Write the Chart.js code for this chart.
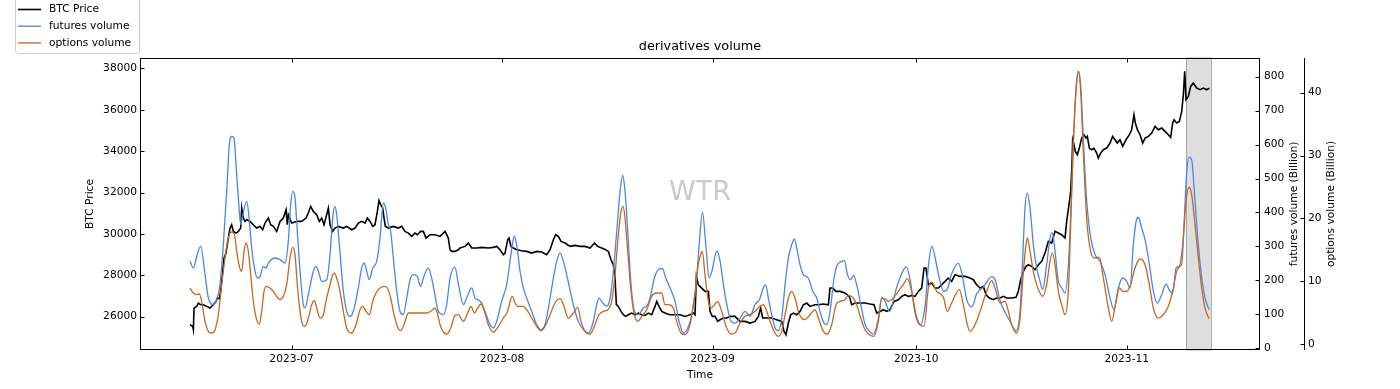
<!DOCTYPE html>
<html>
<head>
<meta charset="utf-8">
<script src="https://cdn.jsdelivr.net/npm/chart.js@4.4.1/dist/chart.umd.min.js"></script>
<style>
html,body{margin:0;padding:0;background:#ffffff;}
#wrap{width:1400px;height:389px;position:relative;}
canvas{display:block;}
</style>
</head>
<body>
<div id="wrap"><canvas id="c" width="1400" height="389" style="width:1400px;height:389px"></canvas></div>
<script>
// ---------------- DATA (x = days since 2023-07-01) ----------------
const chartTitle = 'derivatives volume';
const watermark = 'WTR';
const seriesNames = ['BTC Price', 'futures volume', 'options volume'];
const axisTitles = {x: 'Time', price: 'BTC Price', futures: 'futures volume (Billion)', options: 'options volume (Billion)'};

const monthTicks = [0, 31, 62, 92, 123];
const monthLabels = ['2023-07', '2023-08', '2023-09', '2023-10', '2023-11'];
const priceTicks = [26000, 28000, 30000, 32000, 34000, 36000, 38000];
const futuresTicks = [0, 100, 200, 300, 400, 500, 600, 700, 800];
const optionsTicks = [0, 10, 20, 30, 40];
const spanDays = [131.72, 135.4];

const btcDay = [
 -14.96,-14.57,-14.47,-14.37,-13.98,-13.74,-13.39,-13.0,-12.51,-12.02,
 -11.53,-11.13,-10.94,-10.64,-10.45,-10.15,-9.96,-9.66,-9.32,-9.07,
 -8.83,-8.58,-8.19,-7.84,-7.5,-7.35,-7.11,-6.86,-6.62,-6.13,
 -5.64,-5.15,-4.65,-4.26,-3.92,-3.43,-3.08,-2.69,-2.2,-1.71,
 -1.22,-0.82,-0.63,-0.48,0.01,0.75,1.48,2.12,2.46,2.81,
 3.2,3.69,4.08,4.43,4.77,5.16,5.41,5.66,6.05,6.39,
 6.88,7.62,8.11,8.85,9.34,9.83,10.32,10.81,11.15,11.55,
 11.94,12.28,12.63,12.87,13.12,13.41,13.61,13.81,14.25,14.98,
 15.72,16.21,16.7,17.19,17.68,18.17,18.52,19.01,19.4,19.79,
 20.38,21.12,21.86,22.59,22.84,23.08,23.33,23.57,24.06,24.56,
 24.8,25.54,26.03,26.52,27.26,27.99,28.97,29.71,30.2,30.69,
 31.18,31.43,31.82,32.02,32.31,32.66,33.15,33.88,34.62,35.36,
 36.09,36.83,37.57,38.06,38.55,38.89,39.28,39.68,40.27,41.0,
 41.74,42.47,43.21,43.95,44.6,45.08,45.67,46.25,46.65,47.04,
 47.38,47.63,47.83,48.12,48.51,48.86,49.2,49.59,50.08,50.57,
 51.07,51.56,52.05,52.54,53.03,53.52,53.77,54.11,54.5,54.99,
 55.73,56.47,57.2,57.94,58.67,59.17,59.41,59.61,59.9,60.39,
 60.89,61.38,61.62,61.96,62.36,62.75,63.09,63.58,64.08,64.57,
 65.3,66.04,66.78,67.51,68.25,68.74,69.08,69.38,69.97,70.7,
 71.44,72.18,72.52,72.81,73.16,73.5,73.89,74.38,74.88,75.37,
 75.86,76.35,77.08,77.58,78.31,79.05,79.29,79.69,80.18,80.77,
 81.5,82.14,82.48,82.98,83.71,84.45,85.18,85.77,86.17,86.66,
 87.15,87.64,88.13,88.72,89.36,89.85,90.34,90.83,91.32,91.81,
 92.3,92.79,93.14,93.43,93.78,94.27,94.76,95.25,95.74,96.23,
 96.72,97.21,97.7,98.44,99.18,99.91,100.4,100.89,101.39,101.88,
 102.27,102.76,103.35,103.84,104.33,104.82,105.31,106.05,106.69,107.03,
 107.37,107.77,108.16,108.5,109.0,109.48,109.98,110.47,110.96,111.45,
 111.94,112.43,112.92,113.41,113.9,114.15,114.49,114.74,114.93,115.03,
 115.23,115.42,115.72,116.01,116.36,116.7,117.0,117.19,117.49,117.83,
 118.17,118.57,118.81,119.16,119.55,120.04,120.53,120.92,121.27,121.61,
 122.0,122.4,122.89,123.38,123.72,124.06,124.26,124.56,124.95,125.34,
 125.69,126.18,126.67,127.16,127.65,128.14,128.63,129.12,129.46,129.76,
 129.96,130.35,130.74,131.09,131.33,131.53,131.72,132.07,132.41,132.8,
 133.29,133.79,134.28,134.77,135.16
];
const btcPrice = [
 25610,25530,25368,26415,26496,26657,26577,26577,26496,26415,
 26577,26737,26899,26867,27221,28188,28832,29074,29799,30282,
 30443,30121,30040,30121,30282,31248,30765,30604,30685,30604,
 30443,30282,30363,30202,30523,30765,30443,30363,30121,30604,
 30765,31168,30443,30926,30523,30604,30604,30765,31007,31329,
 31087,30926,30604,30765,30443,30926,31248,30443,30121,30282,
 30363,30282,30363,30202,30282,30523,30604,30523,30765,30604,
 30363,30443,31087,31603,31410,31248,30765,30363,30282,30363,
 30282,30363,30121,30040,29879,30040,29960,30121,30121,29799,
 29960,29960,29879,30121,29960,29799,29235,29154,29154,29235,
 29316,29396,29557,29316,29316,29348,29316,29348,29396,29235,
 28993,29074,29718,29799,29396,29316,29235,29187,29154,29074,
 29154,29122,28993,29235,29718,29960,29879,29638,29557,29396,
 29445,29396,29396,29316,29557,29396,29316,29235,29154,28751,
 28510,27865,26577,26496,26254,26093,26013,26093,26174,26093,
 26174,26093,26061,26174,26093,26496,26737,26496,26254,26174,
 26093,26093,26093,26013,26093,26174,26093,27946,27543,27382,
 27221,27221,26254,26013,26013,25771,25852,25932,25932,26013,
 26013,25771,25771,25691,25771,26013,26415,25932,25932,25932,
 25852,25771,25288,25127,25691,26093,26174,26093,26254,26577,
 26657,26496,26577,26577,26609,26577,27382,27382,27221,27221,
 27141,26979,26577,26657,26657,26657,26609,26577,26174,26254,
 26335,26254,26335,26737,26818,26979,27060,26979,27028,26979,
 27221,27382,28349,28349,27543,27624,27382,27382,27543,27704,
 27865,27704,28027,27946,27946,27865,27785,27543,27382,27462,
 27060,26899,26818,26899,26899,26979,26899,26899,26931,27221,
 27785,28188,28429,28510,28429,28268,28510,28671,29074,29638,
 29557,30121,30040,29960,29799,30604,31410,32054,33342,34551,
 34309,33987,33826,34148,34632,34793,34632,34712,34148,34068,
 34148,33907,33665,33907,34068,34148,34390,34712,34551,34390,
 34551,34229,34551,34793,35034,35759,35357,35034,34793,34390,
 34632,34712,34873,35195,35034,35115,34954,34793,34664,35357,
 35518,35357,35437,35920,36726,37854,36484,36645,37129,37290,
 37048,36968,37048,36968,37048
];

const futDay = [
 -14.96,-14.47,-13.98,-13.39,-12.75,-12.26,-11.53,-11.04,-10.55,-10.06,
 -9.56,-9.17,-8.82,-8.48,-8.19,-7.85,-7.5,-7.2,-6.61,-6.27,
 -5.88,-5.39,-5.05,-4.65,-4.16,-3.77,-3.43,-2.44,-1.7,-0.97,
 -0.49,-0.14,0.16,0.5,0.84,1.24,1.72,1.97,2.46,3.2,
 3.59,3.94,4.43,5.17,5.66,6.05,6.35,6.64,7.03,7.62,
 8.11,8.6,9.09,9.82,10.32,10.71,11.06,11.44,11.94,12.53,
 13.02,13.51,13.9,14.24,14.59,14.98,15.48,15.96,16.45,16.95,
 17.44,17.92,18.51,19.0,19.4,20.13,20.62,21.1,21.6,22.34,
 22.84,23.33,24.06,24.55,25.3,25.78,26.52,27.01,27.5,27.99,
 28.48,29.22,29.71,30.2,30.93,31.67,32.16,32.51,32.8,33.15,
 33.64,34.13,34.62,35.36,36.1,36.73,37.32,37.91,38.55,39.04,
 39.53,40.02,40.51,41.15,41.74,42.23,42.97,43.7,44.44,44.93,
 45.28,45.67,46.41,46.9,47.39,47.88,48.37,48.76,49.11,49.5,
 49.99,50.48,51.07,51.81,52.3,52.79,53.43,54.02,54.61,55.1,
 55.74,56.48,57.07,57.71,58.35,58.94,59.53,60.02,60.51,61.0,
 61.49,61.89,62.62,63.11,63.6,64.09,64.73,65.3,66.04,66.77,
 67.51,68.25,68.89,69.47,69.82,70.21,70.7,71.2,71.69,72.18,
 72.67,73.16,73.65,74.04,74.39,74.88,75.37,76.1,76.74,77.33,
 77.82,78.41,78.81,79.3,79.89,80.38,81.02,81.41,81.86,82.35,
 82.74,83.23,83.82,84.46,85.2,85.69,86.42,86.92,87.41,88.05,
 89.13,89.87,90.51,91.1,91.83,92.57,93.31,93.8,94.29,94.78,
 95.27,96.01,96.5,97.24,98.22,98.71,99.45,100.19,100.92,101.9,
 103.13,103.62,104.33,105.8,106.69,107.28,107.67,108.01,108.36,108.75,
 109.24,109.73,110.22,110.61,111.2,111.7,112.04,112.43,112.92,113.41,
 113.9,114.4,114.74,115.13,115.53,115.87,116.21,116.61,117.1,117.69,
 118.33,119.06,119.8,120.54,121.12,121.76,122.4,122.99,123.48,123.97,
 124.37,124.71,125.2,125.69,126.18,126.92,127.5,128.14,128.78,129.37,
 129.76,130.26,130.7,131.09,131.43,131.83,132.17,132.56,132.95,133.45,
 134.04,134.53,135.12
];
const futVol = [
 256,236,271,300,217,148,129,143,187,305,
 462,600,624,619,541,443,364,393,433,384,
 295,227,207,212,241,236,251,266,261,251,
 315,423,462,443,344,227,129,119,158,227,
 241,227,197,202,276,384,418,394,305,168,
 109,94,109,178,236,251,227,202,236,256,
 325,428,408,364,344,266,168,109,99,148,
 202,217,212,182,207,236,207,158,109,99,
 129,207,239,190,129,148,178,148,143,133,
 109,70,60,79,138,187,256,305,330,305,
 227,178,148,109,70,55,70,129,207,256,
 281,256,217,158,109,79,55,45,79,129,
 148,138,124,148,227,344,462,509,462,344,
 187,109,99,119,124,148,207,232,235,207,
 178,138,79,45,60,99,178,305,401,305,
 207,227,287,256,187,129,79,74,89,109,
 94,129,143,178,187,148,99,60,52,89,
 187,266,305,322,295,246,217,207,168,148,
 109,74,70,109,207,246,256,258,217,202,
 215,187,129,70,48,42,89,150,138,109,
 181,221,240,201,103,69,128,246,301,266,
 217,168,172,221,250,221,142,122,162,181,
 211,201,140,80,52,109,266,413,457,413,
 305,236,197,173,246,325,340,286,197,178,
 163,246,393,609,766,816,776,609,433,325,
 276,256,217,148,114,178,207,197,178,305,
 374,386,354,320,266,168,133,158,189,168,
 163,236,241,246,364,521,563,555,462,325,
 207,148,114
];

const optDay = [
 -14.96,-14.47,-13.98,-13.59,-13.25,-12.75,-12.26,-11.77,-11.28,-10.79,
 -10.3,-9.81,-9.32,-8.83,-8.43,-8.09,-7.7,-7.35,-7.01,-6.72,
 -6.37,-6.03,-5.64,-5.15,-4.75,-4.41,-4.07,-3.67,-3.18,-2.69,
 -2.2,-1.71,-1.22,-0.73,-0.24,0.16,0.5,0.84,1.24,1.63,
 1.97,2.46,2.96,3.35,3.69,4.18,4.67,5.16,5.66,6.05,
 6.29,6.64,7.03,7.62,8.11,8.85,9.48,10.07,10.47,10.96,
 11.45,11.94,12.43,13.02,13.61,14.1,14.59,15.08,15.57,16.06,
 16.55,17.19,17.93,18.91,19.89,20.48,21.12,21.46,21.86,22.35,
 22.84,23.43,24.06,24.56,25.29,26.03,26.42,26.91,27.4,27.89,
 28.39,28.97,29.71,30.45,31.18,31.82,32.17,32.51,32.9,33.39,
 34.13,34.62,35.36,36.09,36.73,37.32,38.06,38.79,39.53,40.02,
 40.76,41.49,42.13,42.62,43.21,43.95,44.68,45.27,45.91,46.55,
 47.14,47.63,48.12,48.51,48.81,49.1,49.5,49.99,50.48,50.97,
 51.56,52.29,53.03,53.77,54.5,54.99,55.48,56.22,56.71,57.35,
 57.94,58.68,59.31,59.9,60.3,60.49,60.88,61.38,61.77,62.36,
 62.75,63.34,64.08,64.71,65.3,66.04,66.78,67.51,68.25,68.98,
 69.48,69.97,70.46,71.19,71.68,72.18,72.67,73.16,73.65,74.14,
 74.63,75.12,75.61,76.35,77.08,77.58,78.31,78.9,79.54,80.18,
 80.77,81.5,81.99,82.73,83.22,83.81,84.45,85.09,85.77,86.41,
 86.9,87.39,87.89,88.62,89.36,90.09,90.68,91.32,91.96,92.55,
 93.14,93.78,94.27,95.0,95.99,96.57,97.21,98.34,98.93,99.52,
 99.91,100.65,101.39,102.37,103.1,103.59,104.33,105.07,105.56,106.05,
 106.79,107.28,107.77,108.16,108.36,108.75,109.24,109.73,110.22,110.61,
 111.2,111.69,112.04,112.43,112.92,113.41,113.9,114.39,114.74,115.13,
 115.52,115.87,116.21,116.6,117.09,117.68,118.32,118.96,119.55,120.29,
 120.78,121.41,121.91,122.4,122.99,123.57,124.21,124.95,125.69,126.32,
 126.91,127.65,128.39,129.12,129.76,130.35,130.84,131.33,131.72,132.17,
 132.56,133.05,133.54,134.03,134.52,135.11
];
const optVol = [
 8.95,8.16,7.9,8.0,6.83,3.65,2.06,1.8,2.32,4.71,
 9.48,13.72,16.9,17.85,17.43,14.78,12.4,11.6,14.78,16.1,
 14.78,11.07,6.83,3.92,3.23,5.24,8.42,9.22,8.95,8.42,
 7.63,7.1,7.63,9.48,13.72,15.42,14.25,9.48,5.24,3.12,
 2.86,4.18,6.3,6.94,5.77,4.18,4.71,7.36,9.48,11.07,
 11.33,10.54,8.95,5.24,2.59,1.8,3.12,5.5,6.04,5.24,
 4.71,6.83,8.16,8.95,9.22,8.95,7.36,4.71,2.86,2.17,
 3.12,4.98,4.98,4.98,4.98,5.24,5.77,4.98,3.12,1.96,
 1.64,2.59,4.6,4.71,3.65,5.24,6.04,4.98,5.77,6.41,
 5.24,3.12,1.96,2.86,4.18,5.24,6.83,7.63,6.57,6.04,
 6.04,5.5,4.18,2.86,2.17,2.86,4.71,6.57,7.25,6.3,
 4.18,4.98,5.88,3.65,2.06,1.64,3.12,4.71,5.24,5.5,
 6.83,11.07,17.43,21.14,21.93,20.08,14.78,8.42,4.71,3.65,
 4.45,5.5,7.63,8.16,8.16,6.3,6.3,5.77,3.65,1.8,
 1.53,3.12,7.36,12.66,14.52,14.78,11.07,6.83,5.77,6.41,
 6.83,5.24,2.59,1.64,1.8,3.39,4.45,4.71,5.24,6.04,
 6.3,5.24,3.65,1.8,1.27,2.06,4.71,7.36,8.42,7.36,
 5.24,4.18,3.92,4.71,5.5,4.18,2.06,1.64,3.12,6.3,
 6.83,7.1,7.78,7.36,6.3,4.18,2.32,1.53,1.27,3.65,
 7.25,7.25,6.83,7.36,8.42,9.48,10.43,8.42,4.71,3.12,
 2.9,8.95,9.9,8.42,7.47,5.24,6.57,8.69,6.3,3.12,
 2.06,3.12,5.24,8.42,10.12,8.95,6.57,6.83,5.24,3.12,
 1.8,4.18,11.6,15.84,16.9,14.78,11.6,9.48,8.16,7.63,
 9.48,13.19,14.52,12.66,8.42,6.3,4.71,8.42,19.02,31.74,
 40.22,43.3,40.22,30.68,20.08,14.78,13.72,13.83,10.54,5.77,
 3.65,6.83,8.95,8.42,8.42,9.48,12.13,13.56,12.66,9.48,
 5.77,4.18,4.71,6.04,8.42,11.6,12.66,16.9,22.73,24.96,
 23.79,19.02,13.72,8.95,5.77,4.07
];

// ---------------- STYLE ----------------
const FONT = 'DejaVu Sans';
const FS = 10.67;
const colors = ['#000000', '#4a86e8', '#c8661c'];
const xRange = [-22.33, 142.62];
const priceRange = [24389, 38501];
const futRange = [-5, 855];
const optRange = [-0.9, 45.5];

const toXY = (xs, ys) => xs.map((x, i) => ({x: x, y: ys[i]}));
const setTicks = arr => (s => { s.ticks = arr.map(v => ({value: v})); });
const tickFont = {family: FONT, size: FS};

const decor = {
  id: 'decor',
  beforeDatasetsDraw(chart) {
    const {ctx, chartArea: a, scales} = chart;
    ctx.save();
    ctx.fillStyle = 'rgba(150,150,150,0.5)';
    ctx.font = '27px "' + FONT + '"';
    ctx.textAlign = 'center';
    ctx.textBaseline = 'middle';
    ctx.fillText(watermark, (a.left + a.right) / 2, 193);
    const x0 = scales.x.getPixelForValue(spanDays[0]);
    const x1 = scales.x.getPixelForValue(spanDays[1]);
    ctx.fillStyle = 'rgba(200,200,200,0.6)';
    ctx.fillRect(x0, a.top, x1 - x0, a.bottom - a.top);
    ctx.strokeStyle = 'rgba(140,140,140,0.7)';
    ctx.lineWidth = 1;
    ctx.strokeRect(Math.round(x0) + 0.5, a.top, Math.round(x1 - x0), a.bottom - a.top);
    ctx.restore();
  },
  afterDraw(chart) {
    const {ctx, chartArea: a, scales} = chart;
    const L = Math.round(a.left) + 0.5, R = Math.round(a.right) - 0.5;
    const T = Math.round(a.top) + 0.5, B = Math.round(a.bottom) - 0.5;
    ctx.save();
    ctx.strokeStyle = '#000';
    ctx.lineWidth = 1;
    ctx.strokeRect(L, T, R - L, B - T);
    ctx.beginPath();
    monthTicks.forEach(v => {
      const px = Math.round(scales.x.getPixelForValue(v)) + 0.5;
      ctx.moveTo(px, B); ctx.lineTo(px, B - 4);
      ctx.moveTo(px, T); ctx.lineTo(px, T + 4);
    });
    priceTicks.forEach(v => {
      const py = Math.round(scales.y.getPixelForValue(v)) + 0.5;
      ctx.moveTo(L, py); ctx.lineTo(L + 4, py);
    });
    futuresTicks.forEach(v => {
      const py = Math.round(scales.yF.getPixelForValue(v)) + 0.5;
      ctx.moveTo(R, py); ctx.lineTo(R - 4, py);
    });
    const S = Math.round(scales.yO.left) + 0.5;
    ctx.moveTo(S, a.top); ctx.lineTo(S, a.bottom);
    optionsTicks.forEach(v => {
      const py = Math.round(scales.yO.getPixelForValue(v)) + 0.5;
      ctx.moveTo(S, py); ctx.lineTo(S - 4, py);
    });
    ctx.stroke();

    // axis titles
    ctx.fillStyle = '#000';
    ctx.font = FS + 'px "' + FONT + '"';
    ctx.textAlign = 'center';
    ctx.textBaseline = 'middle';
    ctx.fillText(axisTitles.x, (a.left + a.right) / 2, 375);
    const midY = (a.top + a.bottom) / 2;
    [[axisTitles.price, 90], [axisTitles.futures, 1294], [axisTitles.options, 1331]].forEach(([t, x]) => {
      ctx.save();
      ctx.translate(x, midY);
      ctx.rotate(-Math.PI / 2);
      ctx.fillText(t, 0, 0);
      ctx.restore();
    });
    // chart title
    ctx.font = '12.8px "' + FONT + '"';
    ctx.fillText(chartTitle, (a.left + a.right) / 2, 47);

    // legend
    ctx.fillStyle = 'rgba(255,255,255,0.85)';
    ctx.strokeStyle = '#cccccc';
    ctx.lineWidth = 1;
    ctx.beginPath();
    if (ctx.roundRect) ctx.roundRect(15.5, -6.5, 124, 60, 3); else ctx.rect(15.5, -6.5, 124, 60);
    ctx.fill(); ctx.stroke();
    ctx.font = FS + 'px "' + FONT + '"';
    ctx.textAlign = 'left';
    seriesNames.forEach((n, i) => {
      const y = 9.5 + i * 16.7;
      ctx.strokeStyle = colors[i];
      ctx.lineWidth = i === 0 ? 1.6 : 1.3;
      ctx.beginPath(); ctx.moveTo(18, y); ctx.lineTo(41, y); ctx.stroke();
      ctx.fillStyle = '#000';
      ctx.fillText(n, 49, y);
    });
    ctx.restore();
  }
};

new Chart(document.getElementById('c'), {
  type: 'line',
  data: {
    datasets: [
      {label: seriesNames[0], data: toXY(btcDay, btcPrice), yAxisID: 'y', borderColor: colors[0], borderWidth: 1.6, pointRadius: 0, tension: 0, order: 3},
      {label: seriesNames[1], data: toXY(futDay, futVol), yAxisID: 'yF', borderColor: colors[1], borderWidth: 1.3, pointRadius: 0, cubicInterpolationMode: 'monotone', order: 2},
      {label: seriesNames[2], data: toXY(optDay, optVol), yAxisID: 'yO', borderColor: colors[2], borderWidth: 1.3, pointRadius: 0, cubicInterpolationMode: 'monotone', order: 1}
    ]
  },
  options: {
    responsive: false,
    animation: false,
    devicePixelRatio: 1,
    events: [],
    layout: {padding: {left: 0, right: 0, top: 58, bottom: 0}},
    plugins: {legend: {display: false}, title: {display: false}, tooltip: {enabled: false}},
    scales: {
      x: {
        type: 'linear', position: 'bottom', min: xRange[0], max: xRange[1],
        grid: {display: false, drawTicks: false}, border: {display: false},
        afterBuildTicks: setTicks(monthTicks),
        ticks: {autoSkip: false, maxRotation: 0, minRotation: 0, padding: 3, color: '#000', font: tickFont,
                callback: (v, i) => monthLabels[i]},
        afterFit: s => { s.height = 39; }
      },
      y: {
        type: 'linear', position: 'left', min: priceRange[0], max: priceRange[1],
        grid: {display: false, drawTicks: false}, border: {display: false},
        afterBuildTicks: setTicks(priceTicks),
        ticks: {padding: 3, color: '#000', font: tickFont, callback: v => String(v)},
        afterFit: s => { s.width = 140; }
      },
      yF: {
        type: 'linear', position: 'right', min: futRange[0], max: futRange[1],
        grid: {display: false, drawTicks: false}, border: {display: false},
        afterBuildTicks: setTicks(futuresTicks),
        ticks: {padding: 4, color: '#000', font: tickFont, callback: v => String(v)},
        afterFit: s => { s.width = 44; }
      },
      yO: {
        type: 'linear', position: 'right', min: optRange[0], max: optRange[1],
        grid: {display: false, drawTicks: false}, border: {display: false},
        afterBuildTicks: setTicks(optionsTicks),
        ticks: {padding: 4, color: '#000', font: tickFont, callback: v => String(v)},
        afterFit: s => { s.width = 96; }
      }
    }
  },
  plugins: [decor]
});
</script>
</body>
</html>
